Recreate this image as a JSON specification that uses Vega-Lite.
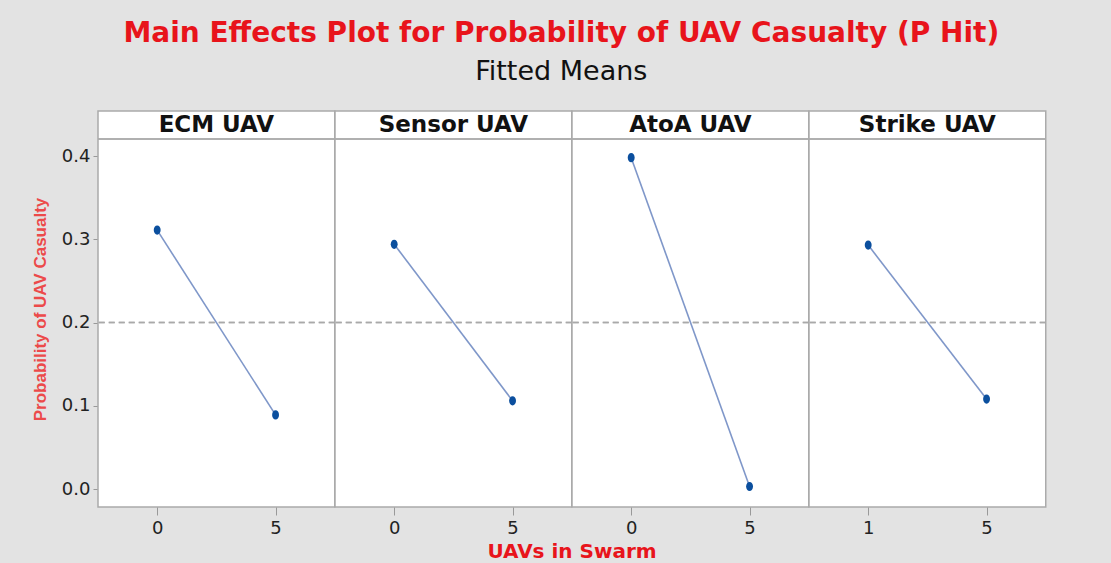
{
  "$schema": "https://vega.github.io/schema/vega-lite/v6.json",
  "background": "#e3e3e3",
  "padding": {"left": 31, "top": 20, "right": 66, "bottom": 8},
  "bounds": "flush",
  "title": {
    "text": "Main Effects Plot for Probability of UAV Casualty (P Hit)",
    "subtitle": "Fitted Means",
    "anchor": "middle",
    "frame": "bounds",
    "dx": 22,
    "font": "DejaVu Sans",
    "fontSize": 28,
    "fontWeight": "bold",
    "color": "#e8141b",
    "subtitleFont": "DejaVu Sans",
    "subtitleFontSize": 27,
    "subtitleColor": "#111111",
    "subtitlePadding": 11,
    "offset": 25
  },
  "data": {
    "values": [
      {"factor": "ECM UAV", "uavs": 0, "p_hit": 0.311},
      {"factor": "ECM UAV", "uavs": 5, "p_hit": 0.089},
      {"factor": "Sensor UAV", "uavs": 0, "p_hit": 0.294},
      {"factor": "Sensor UAV", "uavs": 5, "p_hit": 0.106},
      {"factor": "AtoA UAV", "uavs": 0, "p_hit": 0.398},
      {"factor": "AtoA UAV", "uavs": 5, "p_hit": 0.003},
      {"factor": "Strike UAV", "uavs": 1, "p_hit": 0.293},
      {"factor": "Strike UAV", "uavs": 5, "p_hit": 0.108}
    ]
  },
  "facet": {
    "column": {
      "field": "factor",
      "type": "nominal",
      "sort": ["ECM UAV", "Sensor UAV", "AtoA UAV", "Strike UAV"],
      "header": {
        "labels": false,
        "title": "UAVs in Swarm",
        "titleOrient": "bottom",
        "titleFont": "DejaVu Sans",
        "titleFontSize": 20,
        "titleFontWeight": "bold",
        "titleColor": "#e8141b",
        "titlePadding": 25
      }
    }
  },
  "spacing": 0,
  "resolve": {"scale": {"x": "independent"}},
  "spec": {
    "width": 236.75,
    "height": 396,
    "layer": [
      {
        "mark": {"type": "rule", "color": "#a9a9a9", "strokeWidth": 1.5, "strokeDash": [6, 4]},
        "encoding": {"y": {"datum": 0.2}}
      },
      {
        "mark": {"type": "rule", "color": "#ababab", "strokeWidth": 1.5},
        "encoding": {"y": {"datum": 0.42042}}
      },
      {
        "transform": [{"aggregate": [{"op": "count", "as": "n"}], "groupby": ["factor"]}],
        "mark": {"type": "text", "font": "DejaVu Sans", "fontSize": 23, "fontWeight": "bold", "color": "#111111", "baseline": "middle", "align": "center"},
        "encoding": {
          "text": {"field": "factor", "type": "nominal"},
          "y": {"datum": 0.43724}
        }
      },
      {
        "mark": {"type": "line", "color": "#7f97c9", "strokeWidth": 1.6},
        "encoding": {
          "x": {"field": "uavs", "type": "ordinal"},
          "y": {"field": "p_hit", "type": "quantitative"}
        }
      },
      {
        "mark": {"type": "point", "filled": true, "opacity": 1, "color": "#0b4f9e", "size": 85, "shape": "M-0.75,0a0.75,1 0 1,0 1.5,0a0.75,1 0 1,0 -1.5,0"},
        "encoding": {
          "x": {
            "field": "uavs",
            "type": "ordinal",
            "axis": {
              "title": null,
              "labelAngle": 0,
              "labelAlign": "center",
              "domain": false,
              "tickColor": "#999999",
              "tickSize": 8,
              "labelPadding": 13,
              "labelFont": "DejaVu Sans",
              "labelFontSize": 18,
              "labelColor": "#222222"
            }
          },
          "y": {
            "field": "p_hit",
            "type": "quantitative",
            "scale": {"domain": [-0.02162, 0.4541], "nice": false, "zero": false},
            "axis": {
              "title": "Probability of UAV Casualty",
              "titleFont": "Liberation Sans",
              "titleFontSize": 17,
              "titleFontWeight": "bold",
              "titleColor": "#ec4a4a",
              "titlePadding": 12,
              "values": [0, 0.1, 0.2, 0.3, 0.4],
              "format": ".1f",
              "domain": false,
              "grid": false,
              "tickColor": "#999999",
              "tickSize": 5,
              "labelPadding": 3,
              "labelFont": "DejaVu Sans",
              "labelFontSize": 18,
              "labelColor": "#222222"
            }
          }
        }
      }
    ]
  },
  "config": {
    "view": {"stroke": "#ababab", "strokeWidth": 1.5, "fill": "white"}
  }
}
